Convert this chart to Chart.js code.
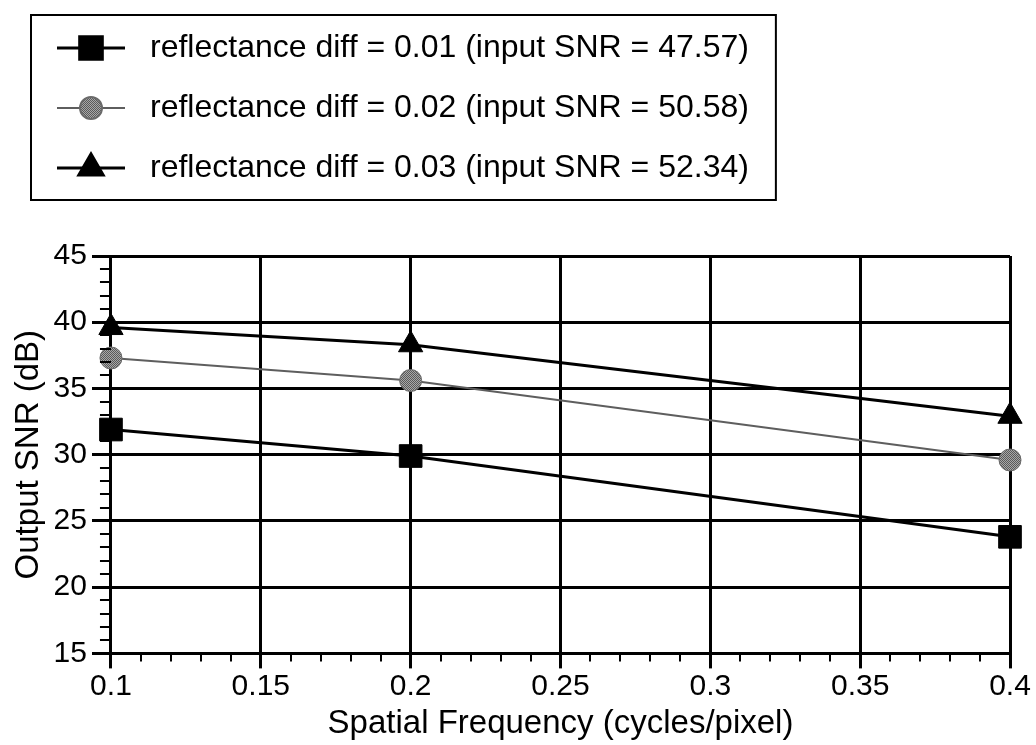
<!DOCTYPE html>
<html lang="en">
<head>
    <meta charset="UTF-8">
    <title>Output SNR vs Spatial Frequency</title>
    <script src="https://cdn.jsdelivr.net/npm/chart.js"></script>
    <style>
        html, body { margin: 0; padding: 0; background: #fff; }
        .chart-container { position: relative; width: 1036px; height: 745px; }
    </style>
</head>
<body>
    <div class="chart-container">
        <canvas id="snrChart"></canvas>
    </div>

    <script>
        const spatialFreq = [0.1, 0.2, 0.4];
        const snrDiff001 = [31.9, 29.9, 23.8];
        const snrDiff002 = [37.3, 35.6, 29.6];
        const snrDiff003 = [39.6, 38.3, 32.9];
        const seriesNames = [
            'reflectance diff = 0.01 (input SNR = 47.57)',
            'reflectance diff = 0.02 (input SNR = 50.58)',
            'reflectance diff = 0.03 (input SNR = 52.34)'
        ];
        const xMin = 0.1, xMax = 0.4, xMinorStep = 0.01, xMajorStep = 0.05;
        const yMin = 15, yMax = 45, yMinorStep = 1, yMajorStep = 5;

        const FONT = "'Liberation Sans', Arial, Helvetica, sans-serif";

        // grey halftone look for the circle markers
        function stipple() {
            const c = document.createElement('canvas');
            c.width = 2; c.height = 2;
            const g = c.getContext('2d');
            g.fillStyle = '#a8a8a8'; g.fillRect(0, 0, 2, 2);
            g.fillStyle = '#5a5a5a'; g.fillRect(0, 0, 1, 1); g.fillRect(1, 1, 1, 1);
            return g.createPattern(c, 'repeat');
        }
        const greyFill = stipple();

        const styles = [
            { point: 'rect', radius: 16, fill: '#000', line: '#000', width: 3 },
            { point: 'circle', radius: 11, fill: greyFill, line: '#5e5e5e', width: 2 },
            { point: 'triangle', radius: 14, fill: '#000', line: '#000', width: 3 }
        ];

        function legendIcon(s) {
            const c = document.createElement('canvas');
            c.width = 102; c.height = 36;
            const g = c.getContext('2d');
            g.strokeStyle = s.line;
            g.lineWidth = s.width;
            g.beginPath();
            g.moveTo(25, 18); g.lineTo(93, 18);
            g.stroke();
            g.fillStyle = s.fill;
            g.strokeStyle = s.fill === greyFill ? '#6a6a6a' : '#000';
            Chart.helpers.drawPoint(g, { pointStyle: s.point, radius: s.radius, rotation: 0, borderWidth: 1 }, 59, 18);
            return c;
        }

        const isMajor = (v, step) => Math.abs(v / step - Math.round(v / step)) < 1e-6;

        const legendFrame = {
            id: 'legendFrame',
            afterDraw(chart) {
                const boxes = chart.legend.legendHitBoxes;
                if (!boxes || !boxes.length) return;
                const left = Math.min(...boxes.map(b => b.left)) - 1;
                const right = Math.max(...boxes.map(b => b.left + b.width)) + 27;
                const top = boxes[0].top - 17;
                const bottom = boxes[boxes.length - 1].top + boxes[boxes.length - 1].height + 16;
                const ctx = chart.ctx;
                ctx.save();
                ctx.strokeStyle = '#000';
                ctx.lineWidth = 2;
                ctx.strokeRect(left, top, right - left, bottom - top);
                ctx.restore();
            }
        };

        // short minor tick marks between the labelled ones
        const minorTicks = {
            id: 'minorTicks',
            afterDraw(chart) {
                const { ctx, chartArea } = chart;
                const xs = chart.scales.x, ys = chart.scales.y;
                ctx.save();
                ctx.strokeStyle = '#000';
                ctx.lineWidth = 2;
                ctx.beginPath();
                for (let i = 0; xMin + i * xMinorStep <= xMax + 1e-9; i++) {
                    const v = xMin + i * xMinorStep;
                    if (isMajor(v, xMajorStep)) continue;
                    const px = Math.round(xs.getPixelForValue(v));
                    ctx.moveTo(px, chartArea.bottom);
                    ctx.lineTo(px, chartArea.bottom + 8);
                }
                for (let v = yMin; v <= yMax; v += yMinorStep) {
                    if (isMajor(v, yMajorStep)) continue;
                    const py = Math.round(ys.getPixelForValue(v));
                    ctx.moveTo(chartArea.left, py);
                    ctx.lineTo(chartArea.left - 11, py);
                }
                ctx.stroke();
                ctx.restore();
            }
        };

        const datasets = [snrDiff001, snrDiff002, snrDiff003].map((vals, i) => ({
            label: seriesNames[i],
            data: spatialFreq.map((x, j) => ({ x: x, y: vals[j] })),
            borderColor: styles[i].line,
            borderWidth: styles[i].width,
            backgroundColor: styles[i].fill,
            pointStyle: styles[i].point,
            pointRadius: styles[i].radius,
            pointHoverRadius: styles[i].radius,
            pointBackgroundColor: styles[i].fill,
            pointBorderColor: i === 1 ? '#6a6a6a' : '#000',
            pointBorderWidth: 1,
            tension: 0,
            clip: false
        }));

        new Chart(document.getElementById('snrChart'), {
            type: 'line',
            data: { datasets: datasets },
            options: {
                responsive: true,
                maintainAspectRatio: false,
                animation: false,
                layout: { padding: { top: 4, left: 4, right: 26, bottom: 1 } },
                plugins: {
                    tooltip: { enabled: false },
                    title: {
                        display: true,
                        text: '',
                        weight: 500,
                        padding: 0,
                        font: { size: 62, lineHeight: 1 }
                    },
                    legend: {
                        position: 'top',
                        align: 'start',
                        labels: {
                            usePointStyle: true,
                            pointStyleWidth: 102,
                            padding: 28,
                            color: '#000',
                            font: { family: FONT, size: 32 },
                            generateLabels: chart => chart.data.datasets.map((ds, i) => ({
                                text: ds.label,
                                pointStyle: legendIcon(styles[i]),
                                fillStyle: '#000',
                                strokeStyle: '#000',
                                lineWidth: 0,
                                hidden: false,
                                datasetIndex: i
                            }))
                        }
                    }
                },
                scales: {
                    x: {
                        type: 'linear',
                        min: xMin,
                        max: xMax,
                        border: { display: true, color: '#000', width: 3 },
                        grid: {
                            color: '#000',
                            lineWidth: 3,
                            tickColor: '#000',
                            tickWidth: 3,
                            tickLength: 15
                        },
                        ticks: {
                            stepSize: xMajorStep,
                            autoSkip: false,
                            maxRotation: 0,
                            padding: 3,
                            color: '#000',
                            font: { family: FONT, size: 30, lineHeight: 1 },
                            callback: v => String(Math.round(v * 100) / 100)
                        },
                        title: {
                            display: true,
                            text: 'Spatial Frequency (cycles/pixel)',
                            color: '#000',
                            font: { family: FONT, size: 33 },
                            padding: { top: 0, bottom: 0 }
                        }
                    },
                    y: {
                        type: 'linear',
                        min: yMin,
                        max: yMax,
                        border: { display: true, color: '#000', width: 3 },
                        grid: {
                            color: '#000',
                            lineWidth: 3,
                            tickColor: '#000',
                            tickWidth: 3,
                            tickLength: 19
                        },
                        ticks: {
                            stepSize: yMajorStep,
                            autoSkip: false,
                            padding: 5,
                            color: '#000',
                            font: { family: FONT, size: 30 },
                            callback: v => String(v)
                        },
                        title: {
                            display: true,
                            text: 'Output SNR (dB)',
                            color: '#000',
                            font: { family: FONT, size: 33 },
                            padding: { top: 5, bottom: 0 }
                        }
                    }
                }
            },
            plugins: [legendFrame, minorTicks]
        });
    </script>
</body>
</html>
